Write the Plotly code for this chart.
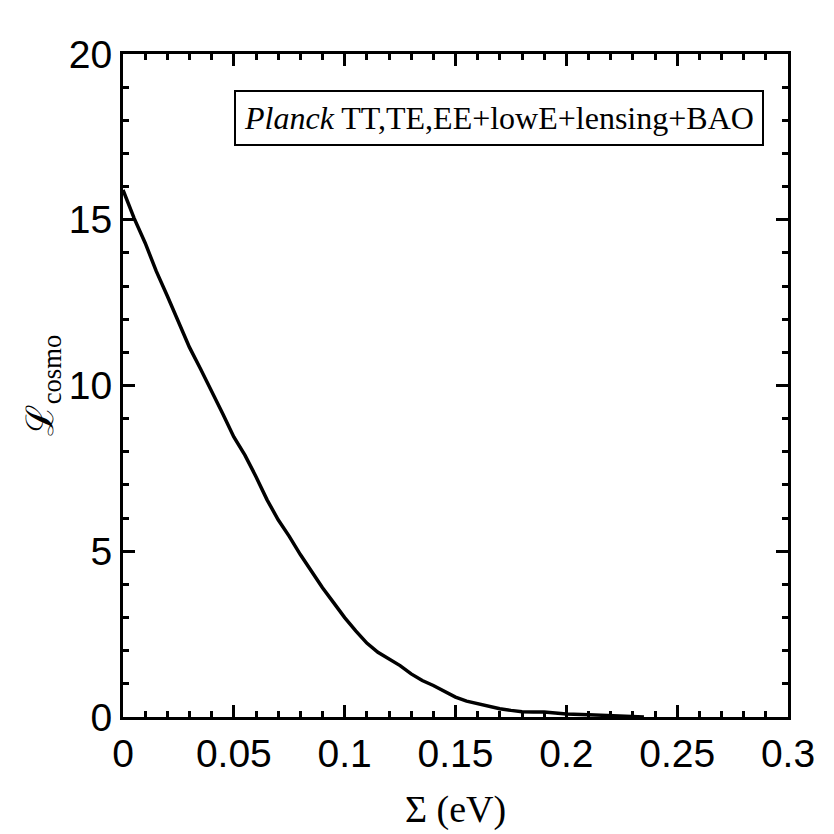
import plotly.graph_objects as go

sigma = [0, 0.005, 0.01, 0.015, 0.02, 0.025, 0.03, 0.035, 0.04, 0.045, 0.05, 0.055,
         0.06, 0.065, 0.07, 0.075, 0.08, 0.085, 0.09, 0.095, 0.1, 0.105, 0.11, 0.115,
         0.12, 0.125, 0.13, 0.135, 0.14, 0.145, 0.15, 0.155, 0.16, 0.165, 0.17, 0.175,
         0.18, 0.185, 0.19, 0.195, 0.2, 0.21, 0.22, 0.235]
L_cosmo = [15.9, 15.05, 14.3, 13.45, 12.7, 11.9, 11.15, 10.5, 9.85, 9.15, 8.45, 7.9,
           7.25, 6.55, 5.95, 5.45, 4.9, 4.38, 3.9, 3.45, 3.0, 2.6, 2.23, 1.95,
           1.75, 1.55, 1.3, 1.1, 0.95, 0.77, 0.6, 0.48, 0.4, 0.32, 0.25, 0.2,
           0.16, 0.15, 0.15, 0.12, 0.09, 0.07, 0.04, 0.0]

x_ticks = [0, 0.05, 0.1, 0.15, 0.2, 0.25, 0.3]
x_labels = ["0", "0.05", "0.1", "0.15", "0.2", "0.25", "0.3"]
y_ticks = [0, 5, 10, 15, 20]

fig = go.Figure()
fig.add_trace(go.Scatter(x=sigma, y=L_cosmo, mode="lines",
                         line=dict(color="black", width=3.5), showlegend=False))

axis_common = dict(showgrid=False, zeroline=False, showline=True, linecolor="black",
                   linewidth=3, mirror="ticks", ticks="inside", ticklen=12, tickwidth=3,
                   tickcolor="black",
                   tickfont=dict(family="Liberation Sans, Arial", size=39, color="black"))

serif = "Liberation Serif, Times New Roman, DejaVu Serif, serif"

fig.update_xaxes(range=[0, 0.3], tickvals=x_ticks, ticktext=x_labels,
                 minor=dict(dtick=0.01, ticks="inside", ticklen=6, tickwidth=2.5, tickcolor="black"),
                 title=dict(text="Σ (eV)", font=dict(family=serif, size=38, color="black"), standoff=22),
                 **axis_common)
fig.update_yaxes(range=[0, 20], tickvals=y_ticks,
                 minor=dict(dtick=1, ticks="inside", ticklen=6, tickwidth=2.5, tickcolor="black"),
                 title=dict(text="<span style='font-family:DejaVu Serif'>ℒ</span><sub>cosmo</sub>",
                            font=dict(family=serif, size=38, color="black"), standoff=4),
                 **axis_common)

fig.add_annotation(xref="paper", yref="paper", x=0.964, y=0.946, xanchor="right", yanchor="top",
                   text="<i>Planck</i> TT,TE,EE+lowE+lensing+BAO", showarrow=False,
                   font=dict(family=serif, size=32, color="black"),
                   bordercolor="black", borderwidth=2, borderpad=8, bgcolor="white")

fig.update_layout(width=834, height=834, margin=dict(l=123, r=46, t=54, b=117),
                  plot_bgcolor="white", paper_bgcolor="white")

fig.write_html("out.html")
